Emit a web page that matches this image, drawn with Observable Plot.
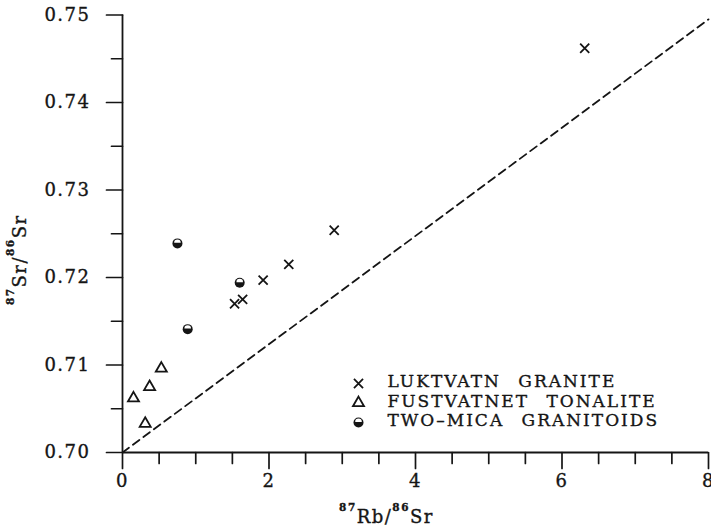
<!DOCTYPE html>
<html><head><meta charset="utf-8">
<script src="https://cdn.jsdelivr.net/npm/d3@7"></script>
<script src="https://cdn.jsdelivr.net/npm/@observablehq/plot@0.6"></script>
<style>
body{margin:0;background:#fff}
#chart svg text{letter-spacing:1.5px}
#chart svg .legend-text text{letter-spacing:2px;word-spacing:10px}
</style></head><body><div id="chart"></div>
<script>
// Luktvatn granite (crosses)
const luktvatnX = [6.31, 2.89, 2.27, 1.92, 1.64, 1.53];
const luktvatnY = [0.7462, 0.7254, 0.7215, 0.7197, 0.7175, 0.7170];
// Fustvatnet tonalite (open triangles)
const fustvatnetX = [0.15, 0.37, 0.53, 0.31];
const fustvatnetY = [0.7062, 0.7075, 0.7096, 0.7033];
// Two-mica granitoids (half-filled circles)
const micaX = [0.75, 1.60, 0.89];
const micaY = [0.7239, 0.7194, 0.7141];
// dashed reference line
const refLineX = [0, 8];
const refLineY = [0.700, 0.7495];
// legend, ticks, titles
const legendLabels = ["LUKTVATN GRANITE", "FUSTVATNET TONALITE", "TWO–MICA GRANITOIDS"];
const xTicks = [0, 2, 4, 6, 8];
const xMinorTicks = [0.5, 1, 1.5, 2.5, 3, 3.5, 4.5, 5, 5.5, 6.5, 7, 7.5];
const yTicks = [0.70, 0.71, 0.72, 0.73, 0.74, 0.75];
const yMinorTicks = [0.705, 0.715, 0.725, 0.735, 0.745];
const xLabelParts = [["87", true], ["Rb/", false], ["86", true], ["Sr", false]];
const yLabelParts = [["87", true], ["Sr/", false], ["86", true], ["Sr", false]];
const xLabel = xLabelParts.map(p => p[0]).join("");
const yLabel = yLabelParts.map(p => p[0]).join("");

const zip = (xs, ys) => xs.map((x, i) => ({x, y: ys[i]}));
const luk = zip(luktvatnX, luktvatnY);
const fus = zip(fustvatnetX, fustvatnetY);
const mic = zip(micaX, micaY);
const ref = zip(refLineX, refLineY);

const ink = "#151515";
const micaBand = {
  draw(context) {
    context.moveTo(-3.3, -0.6);
    context.arc(0, -0.6, 3.3, Math.PI, 2 * Math.PI);
    context.closePath();
  }
};
const tickShape = {
  draw(context, l) {
    context.moveTo(0, 0);
    context.lineTo(0, -l);
  }
};
const xTickMark = (ticks, len) => Plot.vector(ticks, {x: d => d, y: () => 0.70, length: len, rotate: 180, anchor: "start", shape: tickShape, stroke: ink, strokeWidth: 1.7});
const yTickMark = (ticks, len) => Plot.vector(ticks, {x: () => 0, y: d => d, length: len, rotate: 270, anchor: "start", shape: tickShape, stroke: ink, strokeWidth: 1.7});

const legendSymbols = [
  {symbol: "times", fill: "none", stroke: ink, r: 4.2},
  {symbol: "triangle", fill: "none", stroke: ink, r: 4.1},
  {symbol: "circle", fill: ink, stroke: "none", r: 5}
];
const legendMarks = [];
legendLabels.forEach((label, i) => {
  const dy = 367 + i * 19.5;
  legendMarks.push(Plot.dot([label], {frameAnchor: "top-left", dx: 236, dy: dy + 1.5, ...legendSymbols[i], strokeWidth: 1.8}));
  if (i === 2) legendMarks.push(Plot.dot([label], {frameAnchor: "top-left", dx: 236, dy: dy + 1.5, symbol: micaBand, r: 5, fill: "white", stroke: "none"}));
  legendMarks.push(Plot.text([label], {frameAnchor: "top-left", dx: 265, dy, text: d => d, textAnchor: "start", lineAnchor: "middle", fontSize: 17, fill: ink, stroke: ink, strokeWidth: 0.35, className: "legend-text"}));
});

const chart = Plot.plot({
  width: 711,
  height: 526,
  marginLeft: 122,
  marginRight: 3,
  marginTop: 14.5,
  marginBottom: 74,
  style: {fontFamily: "'DejaVu Serif', serif", fontSize: "17px", color: ink, background: "white"},
  x: {domain: [0, 8], axis: null},
  y: {domain: [0.70, 0.75], axis: null},
  marks: [
    xTickMark(xMinorTicks, 11),
    xTickMark(xTicks, 16),
    yTickMark(yMinorTicks, 11),
    yTickMark(yTicks, 16),
    Plot.axisX(xTicks, {tickSize: 0, tickPadding: 22, tickFormat: d3.format("d"), label: null, fontSize: 18, fill: ink, className: "xtl"}),
    Plot.axisY(yTicks, {tickSize: 0, tickPadding: 32, tickFormat: d3.format(".2f"), label: null, fontSize: 18, fill: ink, className: "ytl"}),
    Plot.ruleY([0.70], {x1: 0, x2: 8, stroke: ink, strokeWidth: 1.8}),
    Plot.ruleX([0], {y1: 0.70, y2: 0.75, stroke: ink, strokeWidth: 1.8}),
    Plot.line(ref, {x: "x", y: "y", stroke: ink, strokeWidth: 1.8, strokeDasharray: "8,5"}),
    Plot.dot(luk, {x: "x", y: "y", symbol: "times", r: 4.2, stroke: ink, strokeWidth: 1.8}),
    Plot.dot(fus, {x: "x", y: "y", symbol: "triangle", r: 4.1, stroke: ink, fill: "none", strokeWidth: 1.8}),
    Plot.dot(mic, {x: "x", y: "y", symbol: "circle", r: 5, fill: ink, stroke: "none"}),
    Plot.dot(mic, {x: "x", y: "y", symbol: micaBand, r: 5, fill: "white", stroke: "none"}),
    ...legendMarks,
    Plot.text([xLabel], {frameAnchor: "bottom", dx: -29, dy: 70, text: d => d, textAnchor: "middle", lineAnchor: "bottom", fontSize: 18, fill: ink, className: "xtitle"}),
    Plot.text([yLabel], {frameAnchor: "left", dx: -97, dy: 26, rotate: -90, text: d => d, textAnchor: "middle", lineAnchor: "bottom", fontSize: 18, fill: ink, className: "ytitle"})
  ]
});
document.getElementById("chart").appendChild(chart);
const svg = d3.select(chart);
function superscriptTitle(sel, parts) {
  sel.each(function() {
    const t = d3.select(this);
    t.text(null);
    let raised = false;
    parts.forEach(([s, sup]) => {
      const ts = t.append("tspan").text(s);
      if (sup) {
        ts.attr("font-size", 10.5).attr("font-weight", "bold").attr("dy", raised ? 0 : -12);
        raised = true;
      } else {
        ts.attr("font-size", 18).attr("dy", raised ? 12 : 0);
        raised = false;
      }
    });
  });
}
superscriptTitle(svg.selectAll(".xtitle text"), xLabelParts);
superscriptTitle(svg.selectAll(".ytitle text"), yLabelParts);
svg.selectAll(".xtl text, .ytl text, .xtitle text, .ytitle text").attr("stroke", ink).attr("stroke-width", 0.35);
</script></body></html>
